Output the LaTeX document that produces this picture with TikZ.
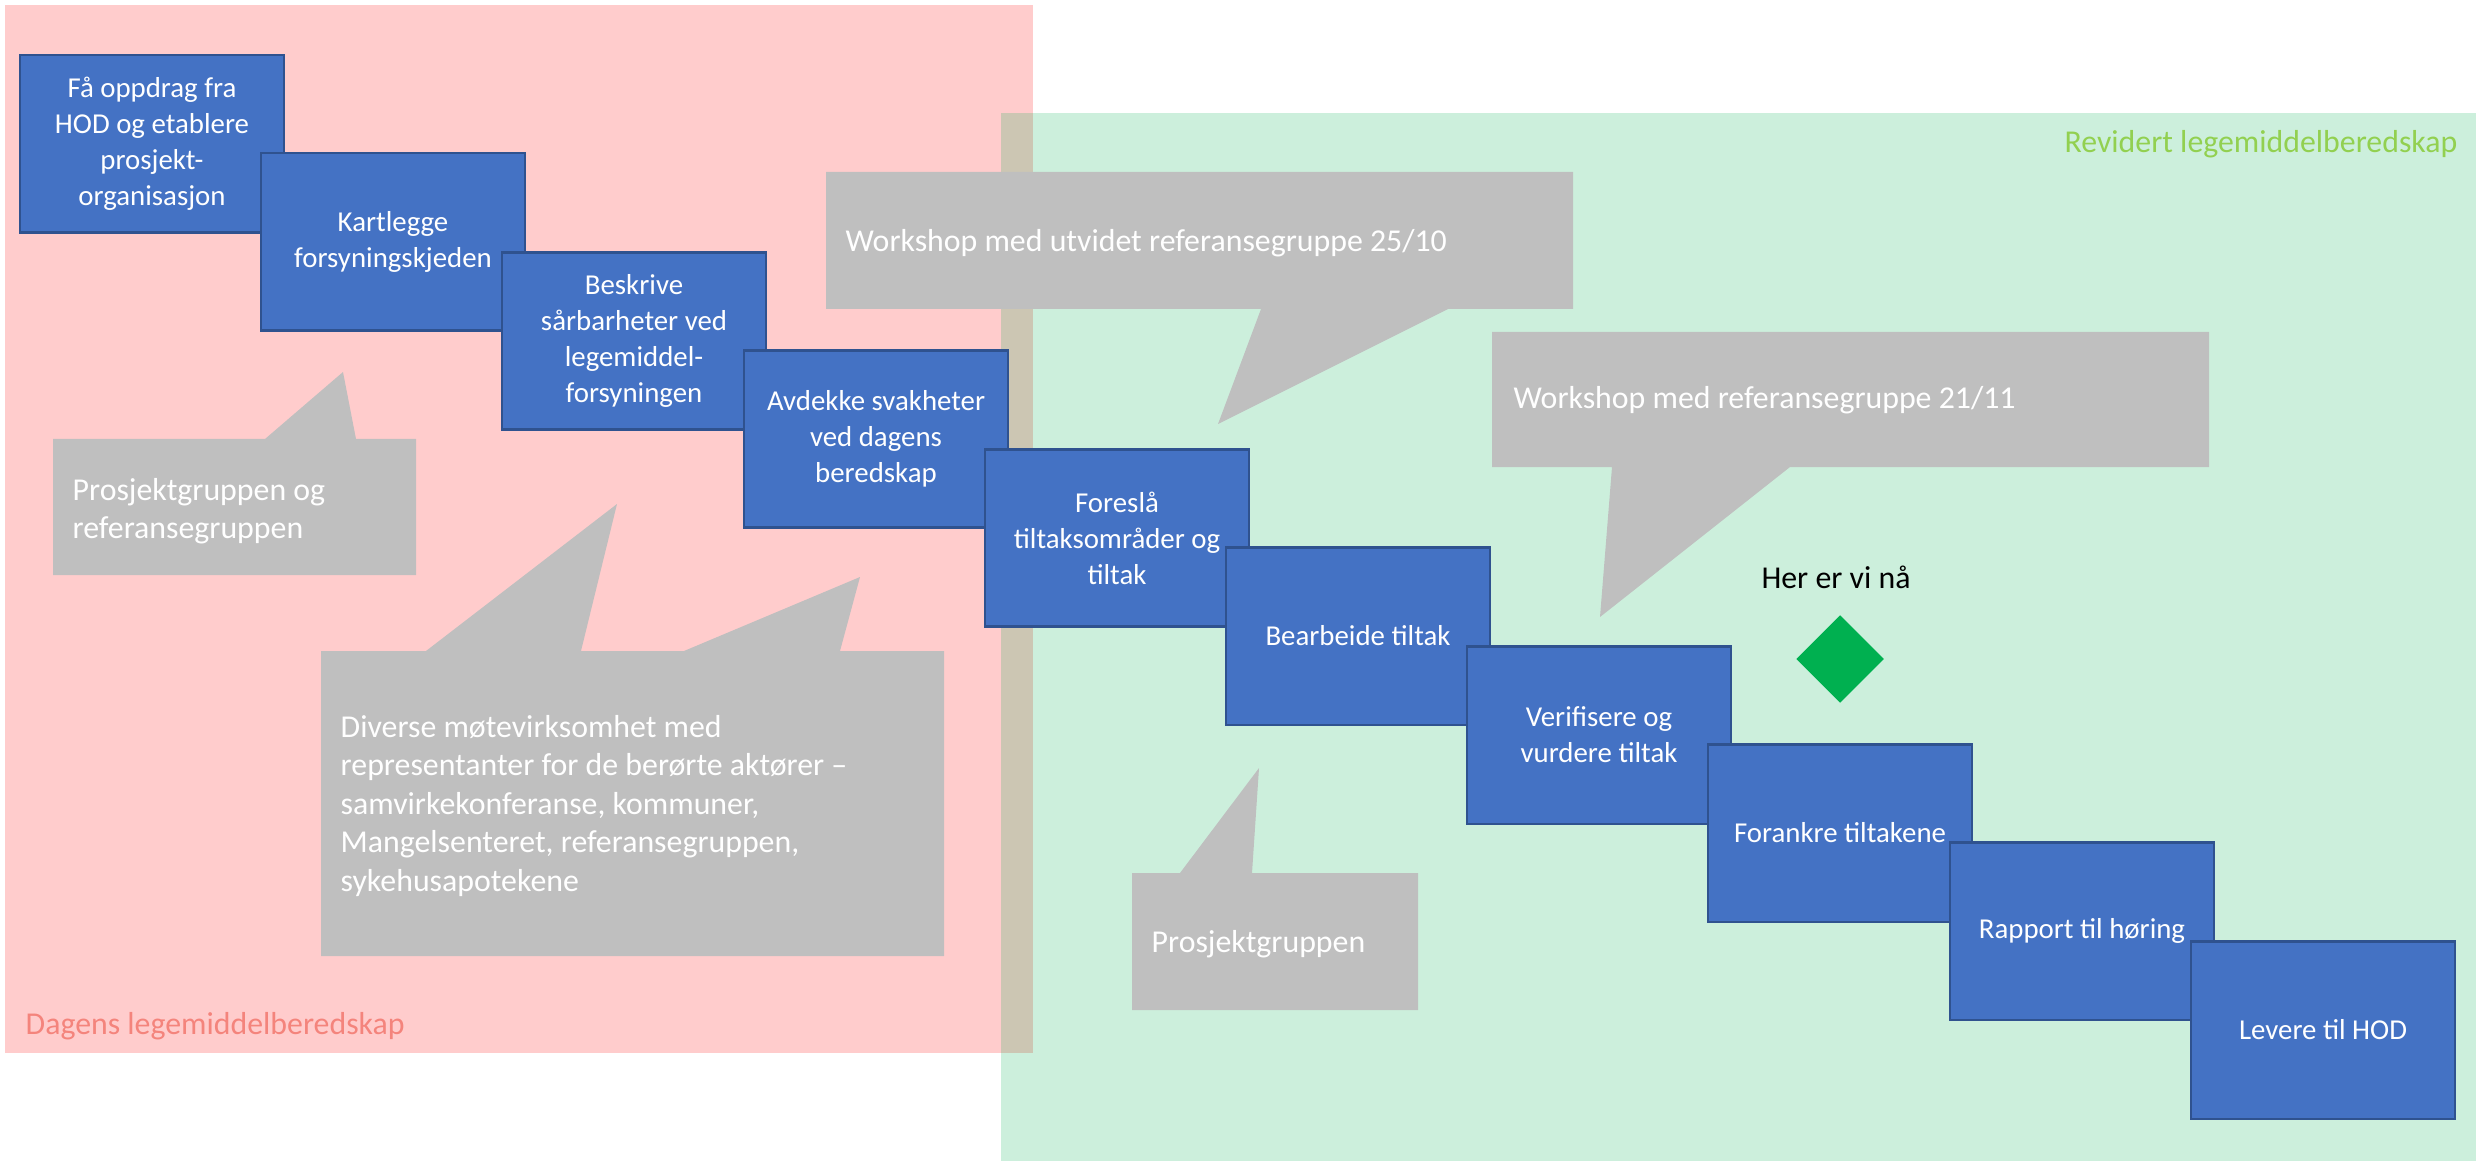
\documentclass[tikz,border=0pt]{standalone}
\usepackage{fontspec}
\setmainfont{Carlito}
\usepackage{xcolor}
\usepackage{tikz}
\usetikzlibrary{shapes.geometric}
\definecolor{lmbblue}{HTML}{4472C4}
\definecolor{lmbedge}{HTML}{2F528F}
\definecolor{lmbgray}{HTML}{BFBFBF}
\definecolor{lmbred}{HTML}{FF0000}
\definecolor{lmbgreen}{HTML}{00B050}
\definecolor{lmbsalmon}{HTML}{F4847C}
\definecolor{lmblime}{HTML}{92D050}

\begin{document}
\begin{tikzpicture}[x=0.01cm,y=-0.01cm,
  stepbox/.style={draw=lmbedge, fill=lmbblue, line width=0.6pt, minimum width=2.64cm, minimum height=1.77cm, inner sep=0pt, align=center, text=white, font=\fontsize{8.2}{10.25}\selectfont},
  bubble/.style={fill=lmbgray},
  bubbletext/.style={anchor=west, inner sep=0pt, align=left, text=white, font=\fontsize{9.05}{10.95}\selectfont},
  phaselabel/.style={inner sep=0pt, font=\fontsize{9.05}{10.95}\selectfont}]
  \useasboundingbox (0,0) rectangle (2476,1161);

  % Phases
  \fill[lmbred, fill opacity=0.2] (5,5) rectangle (1033,1053);
  \fill[lmbgreen, fill opacity=0.2] (1001,113) rectangle (2476,1161);
  \node[phaselabel, anchor=west, text=lmbsalmon] (today) at (25,1026) {Dagens legemiddelberedskap};
  \node[phaselabel, anchor=east, text=lmblime] (revised) at (2458,144) {Revidert legemiddelberedskap};

  % Callouts
  \fill[bubble] (53,439) -- (265,439) -- (343,372) -- (356,439) -- (416,439) -- (416,575) -- (53,575) -- cycle;
  \node[bubbletext] (groups) at (72,511) {Prosjektgruppen og\\referansegruppen};

  \fill[bubble] (321,651) -- (426,651) -- (617,504) -- (581,651) -- (684,651) -- (860,577) -- (840,651) -- (944,651) -- (944,956) -- (321,956) -- cycle;
  \node[bubbletext] (meetings) at (340,806) {Diverse møtevirksomhet med\\representanter for de berørte aktører –\\samvirkekonferanse, kommuner,\\Mangelsenteret, referansegruppen,\\sykehusapotekene};

  \fill[bubble] (826,172) -- (1573,172) -- (1573,309) -- (1448,309) -- (1218,424) -- (1261,309) -- (826,309) -- cycle;
  \node[bubbletext] (wsone) at (845,243) {Workshop med utvidet referansegruppe 25/10};

  \fill[bubble] (1492,332) -- (2209,332) -- (2209,467) -- (1790,467) -- (1600,617) -- (1612,467) -- (1492,467) -- cycle;
  \node[bubbletext] (wstwo) at (1513,400) {Workshop med referansegruppe 21/11};

  \fill[bubble] (1132,873) -- (1180,873) -- (1259,768) -- (1252,873) -- (1418,873) -- (1418,1010) -- (1132,1010) -- cycle;
  \node[bubbletext] (project) at (1151,944) {Prosjektgruppen};

  % Steps
  \node[stepbox] (s1) at (152,144) {Få oppdrag fra\\HOD og etablere\\prosjekt-\\organisasjon};
  \node[stepbox] (s2) at (393,242) {Kartlegge\\forsyningskjeden};
  \node[stepbox] (s3) at (634,341) {Beskrive\\sårbarheter ved\\legemiddel-\\forsyningen};
  \node[stepbox] (s4) at (876,439) {Avdekke svakheter\\ved dagens\\beredskap};
  \node[stepbox] (s5) at (1117,538) {Foreslå\\tiltaksområder og\\tiltak};
  \node[stepbox] (s6) at (1358,636) {Bearbeide tiltak};
  \node[stepbox] (s7) at (1599,735) {Verifisere og\\vurdere tiltak};
  \node[stepbox] (s8) at (1840,833) {Forankre tiltakene};
  \node[stepbox] (s9) at (2082,931) {Rapport til høring};
  \node[stepbox] (s10) at (2323,1030) {Levere til HOD};

  % Marker
  \node[phaselabel, text=black] (now) at (1836,577) {Her er vi nå};
  \node[diamond, fill=lmbgreen, inner sep=0pt, minimum width=0.88cm, minimum height=0.88cm] (here) at (1840,659) {};
\end{tikzpicture}
\end{document}
